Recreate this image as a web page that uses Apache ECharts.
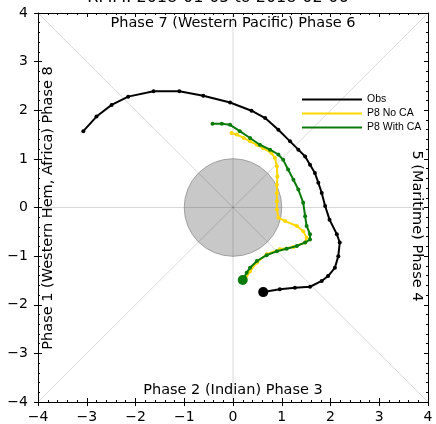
<!DOCTYPE html>
<html>
<head>
<meta charset="utf-8">
<script src="https://cdn.jsdelivr.net/npm/echarts@6/dist/echarts.min.js"></script>
<style>
  html, body { margin: 0; padding: 0; background: #fff; }
  #rmm { width: 436px; height: 424px; }
</style>
</head>
<body>
<div id="rmm"></div>
<script>
  // RMM phase diagram data (RMM1, RMM2)
  var obs = [
    [-3.07, 1.57], [-2.80, 1.87], [-2.49, 2.11], [-2.15, 2.28], [-1.63, 2.39],
    [-1.10, 2.39], [-0.61, 2.30], [-0.06, 2.16], [0.38, 1.99], [0.66, 1.84],
    [0.93, 1.60], [1.17, 1.36], [1.34, 1.19], [1.48, 1.05], [1.58, 0.88],
    [1.68, 0.71], [1.75, 0.51], [1.82, 0.30], [1.89, 0.03], [1.98, -0.25],
    [2.13, -0.55], [2.19, -0.72], [2.16, -1.00], [2.09, -1.24], [1.95, -1.41],
    [1.82, -1.51], [1.58, -1.63], [1.27, -1.65], [0.96, -1.68], [0.62, -1.74]
  ]
  var p8NoCA = [
    [-0.03, 1.53], [0.08, 1.50], [0.22, 1.43], [0.35, 1.36], [0.49, 1.29],
    [0.62, 1.22], [0.79, 1.12], [0.86, 1.02], [0.90, 0.85], [0.91, 0.64],
    [0.90, 0.47], [0.90, 0.30], [0.90, 0.13], [0.90, -0.04], [0.93, -0.21],
    [1.07, -0.28], [1.31, -0.38], [1.44, -0.49], [1.51, -0.62], [1.48, -0.72],
    [1.24, -0.81], [0.96, -0.86], [0.69, -0.96], [0.49, -1.13], [0.35, -1.31],
    [0.25, -1.48]
  ]
  var p8WithCA = [
    [-0.42, 1.72], [-0.23, 1.72], [-0.06, 1.70], [0.14, 1.57], [0.35, 1.43],
    [0.55, 1.29], [0.76, 1.19], [0.93, 1.09], [1.03, 0.98], [1.13, 0.78],
    [1.24, 0.57], [1.34, 0.37], [1.44, 0.10], [1.48, -0.18], [1.51, -0.38],
    [1.58, -0.55], [1.58, -0.66], [1.48, -0.72], [1.31, -0.79], [1.10, -0.85],
    [0.90, -0.90], [0.69, -0.98], [0.49, -1.10], [0.35, -1.24], [0.28, -1.34],
    [0.20, -1.49]
  ]
  var seriesNames = ['Obs', 'P8 No CA', 'P8 With CA']
  var colors = ['#000000', '#ffd700', '#0a7a0a']
  var axisTicks = [-4, -3, -2, -1, 0, 1, 2, 3, 4]

  var chart = echarts.init(document.getElementById('rmm'))
  var font = 'DejaVu Sans'
  var minus = function (v) { return String(v).replace('-', '\u2212') }

  function valueAxis(pos, opts) {
    var ax = {
      type: 'value', position: pos, min: axisTicks[0], max: axisTicks[axisTicks.length - 1], interval: 1,
      axisLine: { show: true, onZero: false, lineStyle: { color: '#000', width: 1 } },
      axisTick: { show: true, inside: true, length: 4, lineStyle: { color: '#000' } },
      minorTick: { show: true, splitNumber: 5, length: 2, lineStyle: { color: '#000' } },
      axisLabel: { show: false },
      splitLine: { show: false }, minorSplitLine: { show: false }
    }
    return Object.assign(ax, opts || {})
  }
  function labelAxis(margin) {
    return {
      axisTick: { show: true, inside: false, length: 4, lineStyle: { color: '#000' } },
      minorTick: { show: false },
      axisLabel: { show: true, color: '#000', fontSize: 14, fontFamily: font, margin: margin, formatter: minus }
    }
  }
  var innerAxis = { axisLine: { show: false, onZero: false } }

  // reference lines: axes and diagonals
  var guides = [
    [[-4, -4], [4, 4]], [[-4, 4], [4, -4]], [[-4, 0], [4, 0]], [[0, -4], [0, 4]]
  ]
  var guideSeries = guides.map(function (g) {
    return {
      type: 'line', data: g, symbol: 'none', silent: true, z: 3,
      lineStyle: { color: 'rgba(0,0,0,0.15)', width: 1 }
    }
  })

  function track(name, data, color, bigLast, z) {
    return {
      name: name, type: 'line', data: data, z: z,
      symbol: 'circle',
      symbolSize: function (val, params) {
        return bigLast && params.dataIndex === data.length - 1 ? 10 : 4
      },
      showSymbol: true,
      itemStyle: { color: color },
      lineStyle: { color: color, width: 2 }
    }
  }

  var option = {
    animation: false,
    backgroundColor: '#fff',
    grid: { left: 38, right: 8, top: 13, bottom: 21 },
    xAxis: [
      valueAxis('bottom', labelAxis(8)),
      valueAxis('bottom', innerAxis),
      valueAxis('top')
    ],
    yAxis: [
      valueAxis('left', labelAxis(10)),
      valueAxis('left', innerAxis),
      valueAxis('right')
    ],
    legend: {
      data: seriesNames, orient: 'vertical', left: 297, top: 89,
      icon: 'rect', itemWidth: 60, itemHeight: 2, itemGap: 3,
      textStyle: { fontSize: 10.5, fontFamily: 'Liberation Sans', color: '#000', padding: [0, 0, 0, 0] }
    },
    graphic: [
      { type: 'text', left: 'center', top: -10, style: { text: 'RMM: 2018-01-05 to 2018-02-06', fontSize: 16, fontFamily: font, fill: '#000' } },
      { type: 'text', x: 233, y: 23, style: { text: 'Phase 7 (Western Pacific) Phase 6', fontSize: 14.5, fontFamily: font, fill: '#000', align: 'center', verticalAlign: 'middle' }, z: 10 },
      { type: 'text', x: 233, y: 390, style: { text: 'Phase 2 (Indian) Phase 3', fontSize: 14.5, fontFamily: font, fill: '#000', align: 'center', verticalAlign: 'middle' }, z: 10 },
      { type: 'text', x: 48, y: 208, rotation: Math.PI / 2, style: { text: 'Phase 1 (Western Hem, Africa) Phase 8', fontSize: 14.5, fontFamily: font, fill: '#000', align: 'center', verticalAlign: 'middle' }, z: 10 },
      { type: 'text', x: 417, y: 226, rotation: -Math.PI / 2, style: { text: '5 (Maritime) Phase 4', fontSize: 14.5, fontFamily: font, fill: '#000', align: 'center', verticalAlign: 'middle' }, z: 10 }
    ],
    series: [
      {
        type: 'custom', silent: true, z: 2,
        data: [[0, 0]],
        renderItem: function (params, api) {
          var c = api.coord([0, 0])
          var r = api.size([1, 0])[0]
          return { type: 'circle', shape: { cx: c[0], cy: c[1], r: r }, style: { fill: '#c8c8c8', stroke: '#a0a0a0', lineWidth: 1 } }
        }
      }
    ].concat(guideSeries).concat([
      track(seriesNames[0], obs, colors[0], true, 5),
      track(seriesNames[1], p8NoCA, colors[1], false, 6),
      track(seriesNames[2], p8WithCA, colors[2], true, 7)
    ])
  }
  chart.setOption(option)
</script>
</body>
</html>
